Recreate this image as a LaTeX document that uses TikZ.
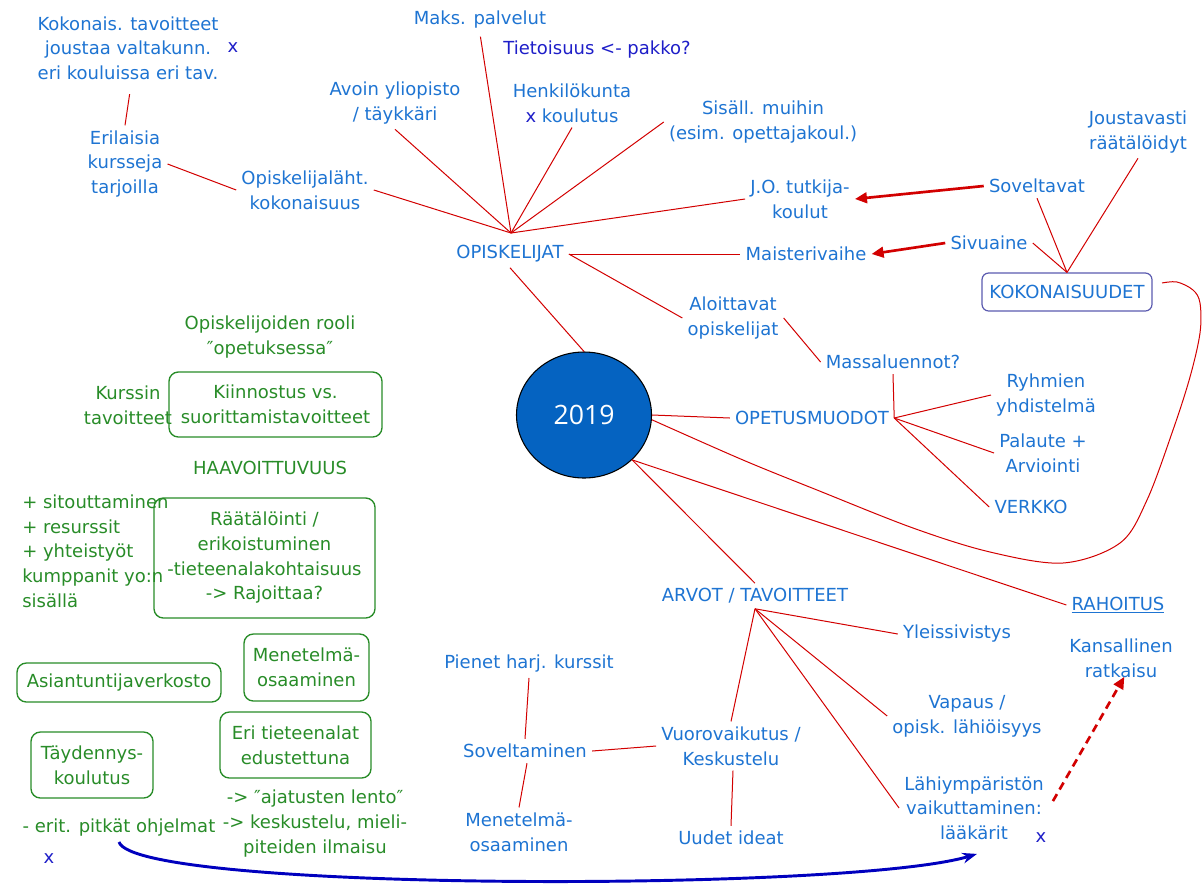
\documentclass[tikz,border=0pt]{standalone}
\usepackage{fontspec}
\setmainfont{DejaVu Sans}
\newfontfamily\numfont{Open Sans}
\usetikzlibrary{arrows.meta,shapes.geometric,calc}
\definecolor{tblue}{RGB}{30,116,210}
\definecolor{xblue}{RGB}{30,30,200}
\definecolor{lred}{RGB}{210,0,0}
\definecolor{tgreen}{RGB}{40,140,40}
\definecolor{cblue}{RGB}{5,99,193}
\definecolor{kbox}{RGB}{90,90,175}
\definecolor{arrblue}{RGB}{0,0,190}
\begin{document}
\begin{tikzpicture}[x=0.75pt,y=-0.75pt,
  every node/.style={font=\fontsize{13.5}{18.5}\selectfont, inner sep=3.75pt, align=center},
  bt/.style={text=tblue},
  gt/.style={text=tgreen},
  gbox/.style={draw=tgreen, line width=1pt, rounded corners=7pt, text=tgreen, inner sep=0pt},
  rl/.style={draw=lred, line width=0.75pt},
  thickarr/.style={draw=lred, line width=2pt, -{Triangle[length=9pt,width=8pt]}},
]
\useasboundingbox (0,0) rectangle (1203,886);

% ---- top left
\node[bt] (kok3) at (128,48) {Kokonais. tavoitteet\\joustaa valtakunn.\\eri kouluissa eri tav.};
\node[text=xblue] (x1) at (233,48) {x};
\node[bt] (eril) at (125,164) {Erilaisia\\kursseja\\tarjoilla};
\node[bt] (opl) at (305,190) {Opiskelijaläht.\\kokonaisuus};

% ---- top middle
\node[bt] (maks) at (480,20) {Maks. palvelut};
\node[text=xblue] (tiet) at (597,50) {Tietoisuus <- pakko?};
\node[bt] (avoin) at (395,103) {Avoin yliopisto\\/ täykkäri};
\node[bt] (henk) at (572,103) {Henkilökunta\\{\color{xblue}x} koulutus};
\node[bt] (sisall) at (763,122) {Sisäll. muihin\\(esim. opettajakoul.)};
\node[bt] (jo) at (800,199) {J.O. tutkija-\\koulut};
\node[bt] (opisk) at (510,254) {OPISKELIJAT};
\node[bt] (maist) at (806,254) {Maisterivaihe};
\coordinate (hubO) at (511,233);

% ---- top right
\node[bt] (sovt) at (1037,186) {Soveltavat};
\node[bt] (sivu) at (989,243) {Sivuaine};
\node[bt] (joust) at (1138,132) {Joustavasti\\räätälöidyt};
\node[bt, draw=kbox, line width=0.9pt, rounded corners=5pt, minimum width=127.5pt, minimum height=28.5pt, inner sep=0pt] (kok) at (1067,292) {KOKONAISUUDET};
\coordinate (kokR) at (1162,283);

% ---- middle
\node[ellipse, draw=black, line width=0.8pt, fill=cblue, minimum width=101.25pt, minimum height=94.5pt, inner sep=0pt, text=white, font=\numfont\fontsize{20}{24}\selectfont] (c) at (584,415) {2019};
\node[bt] (aloit) at (733,318) {Aloittavat\\opiskelijat};
\node[bt] (mass) at (893,362) {Massaluennot?};
\node[bt] (opet) at (812,418) {OPETUSMUODOT};
\node[bt] (ryh) at (1046,395) {Ryhmien\\yhdistelmä};
\node[bt] (pal) at (1043,453) {Palaute +\\Arviointi};
\node[bt] (verk) at (1031,507) {VERKKO};

% ---- bottom right
\node[bt] (rah) at (1118,605) {\underline{RAHOITUS}};
\node[bt] (kans) at (1121,658) {Kansallinen\\ratkaisu};
\node[bt] (arvot) at (755,596) {ARVOT / TAVOITTEET};
\node[bt] (yleis) at (957,634) {Yleissivistys};
\node[bt] (vap) at (967,716) {Vapaus /\\opisk. lähiöisyys};
\node[bt] (lah) at (974,808) {Lähiympäristön\\vaikuttaminen:\\lääkärit};
\node[text=xblue] (x3) at (1041,838) {x};
\node[bt] (vuoro) at (731,746) {Vuorovaikutus /\\Keskustelu};
\node[bt] (uudet) at (731,838) {Uudet ideat};
\node[bt] (sovm) at (525,751) {Soveltaminen};
\node[bt] (pienet) at (529,664) {Pienet harj. kurssit};
\node[bt] (men2) at (519,832) {Menetelmä-\\osaaminen};

% ---- green left part
\node[gt] (rooli) at (270,337) {Opiskelijoiden rooli\\″opetuksessa″};
\node[gbox, minimum width=159.75pt, minimum height=48.75pt] (kiin) at (275.5,404.5) {Kiinnostus vs.\\suorittamistavoitteet};
\node[gt] (kurss) at (128,405) {Kurssin\\tavoitteet};
\node[gt] (haav) at (270,468) {HAAVOITTUVUUS};
\node[gbox, minimum width=165.75pt, minimum height=90pt] (raat) at (264.5,558) {Räätälöinti /\\erikoistuminen\\-tieteenalakohtaisuus\\-> Rajoittaa?};
\node[gt, align=left, anchor=west, inner sep=0pt] (plus) at (22,551) {+ sitouttaminen\\+ resurssit\\+ yhteistyöt\\kumppanit yo:n\\sisällä};
\node[gbox, minimum width=153pt, minimum height=29.25pt] (asi) at (119,682.5) {Asiantuntijaverkosto};
\node[gbox, minimum width=93.75pt, minimum height=50.25pt] (men1) at (306.5,667.5) {Menetelmä-\\osaaminen};
\node[gbox, minimum width=113.25pt, minimum height=49.5pt] (eri) at (295.5,745) {Eri tieteenalat\\edustettuna};
\node[gbox, minimum width=91.5pt, minimum height=49.5pt] (tayd) at (92,765) {Täydennys-\\koulutus};
\node[gt] (ajat) at (315,823.5) {-> ″ajatusten lento″\\-> keskustelu, mieli-\\piteiden ilmaisu};
\node[gt] (erit) at (119,828) {- erit. pitkät ohjelmat};
\node[text=xblue] (x2) at (49,859) {x};

% ---- connectors
\draw[rl, shorten <=7pt] ($(kok3.south)+(3,0)$) -- (eril.north);
\draw[rl] (eril.east) -- (opl.west);
\draw[rl] (opl.east) -- (hubO);
\draw[rl] (avoin.south) -- (hubO);
\draw[rl, shorten <=2pt] (maks.south) -- (hubO);
\draw[rl] (henk.south) -- (hubO);
\draw[rl] (sisall.west) -- (hubO);
\draw[rl] (jo.west) -- (hubO);
\draw[rl] (opisk.east) -- (maist.west);
\draw[rl] (opisk.east) -- (aloit.west);
\draw[rl] (opisk.south) -- (c.north);

\draw[thickarr] (sovt.west) -- (jo.east);
\draw[thickarr] (sivu.west) -- (maist.east);
\draw[rl] (sovt.south) -- (kok.north);
\draw[rl] (sivu.east) -- (kok.north);
\draw[rl] (joust.south) -- (kok.north);

\draw[rl] (c.east) -- (opet.west);
\draw[rl] (aloit.east) -- (mass.west);
\draw[rl] (mass.south) -- (opet.east);
\draw[rl] (opet.east) -- (ryh.west);
\draw[rl] (opet.east) -- (pal.west);
\draw[rl] (opet.east) -- (verk.west);

\draw[rl] plot[smooth, tension=0.55] coordinates {(c.-4) (743,460) (817,490) (913,528) (990,552) (1063,563) (1120,543) (1147,500) (1173,430) (1190,377) (1200,333) (1200,303) (1193,290) (1177,282) (kokR)};

\draw[rl] (c.-43) -- (rah.west);
\draw[rl] (c.-43) -- (arvot.north);
\draw[rl] (arvot.south) -- (yleis.west);
\draw[rl] (arvot.south) -- (vap.west);
\draw[rl] (arvot.south) -- (lah.west);
\draw[rl] (arvot.south) -- (vuoro.north);
\draw[rl] ($(vuoro.south)+(2,0)$) -- (uudet.north);
\draw[rl] (vuoro.west) -- (sovm.east);
\draw[rl] (pienet.south) -- (sovm.north);
\draw[rl] ($(sovm.south)+(2,0)$) -- (men2.north);

\draw[draw=lred, line width=2pt, dash pattern=on 6pt off 4pt, -{Triangle[length=9pt,width=8pt]}, shorten <=6pt, shorten >=-5pt] (lah.east) -- (kans.south);

\draw[arrblue, line width=2.2pt, -{Stealth[length=11pt,width=8pt]}] (erit.south) .. controls (135,892) and (850,892) .. ($(lah.south)+(3,9)$);
\end{tikzpicture}
\end{document}
